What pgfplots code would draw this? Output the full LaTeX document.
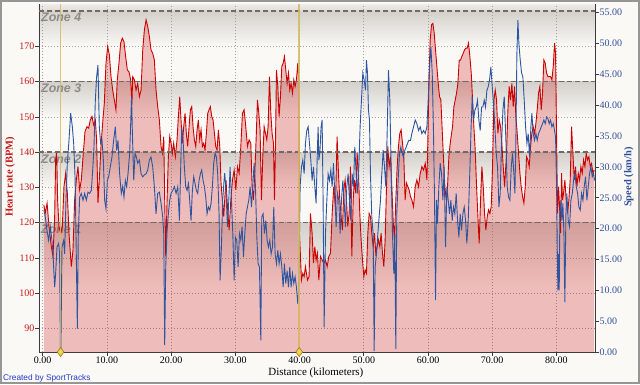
\documentclass[border=0pt]{standalone}
\usepackage{fontspec}
\setmainfont{Liberation Serif}
\newfontfamily\sansf{Liberation Sans}
\usepackage{pgfplots}
\pgfplotsset{compat=1.18}
\pgfdeclarelayer{bglayer}
\pgfsetlayers{bglayer,main}
\definecolor{bgc}{RGB}{250,249,246}
\definecolor{framegray}{RGB}{150,150,150}
\definecolor{zonegray}{RGB}{212,209,204}
\definecolor{topgray}{RGB}{222,219,215}
\definecolor{zonetext}{RGB}{140,138,135}
\definecolor{zoneline}{RGB}{115,105,100}
\definecolor{gridgray}{RGB}{160,160,160}
\definecolor{hrred}{RGB}{204,0,0}
\definecolor{hrlab}{RGB}{200,25,25}
\definecolor{spblue}{RGB}{45,85,160}
\definecolor{splab}{RGB}{50,80,155}
\definecolor{axisgray}{RGB}{60,60,60}
\definecolor{lapgold}{RGB}{215,185,95}
\definecolor{lapfill}{RGB}{240,212,80}
\definecolor{lapdraw}{RGB}{150,120,30}
\definecolor{stblue}{RGB}{35,60,200}

\pgfplotstableread{
km hr
0.2 125.0
0.4 122.6
0.7 125.5
1.0 118.9
1.36 113.2
1.62 110.4
1.88 121.7
2.03 137.8
2.19 140.1
2.34 126.4
2.55 118.9
2.81 117.0
3.07 118.9
3.33 130.2
3.59 134.0
3.85 128.3
4.11 117.0
4.47 107.5
4.73 112.2
4.99 126.4
5.25 132.1
5.51 135.9
5.77 129.3
6.03 132.1
6.34 139.7
6.60 145.8
6.91 147.2
7.17 146.8
7.43 149.1
7.69 150.1
7.95 147.7
8.21 149.1
8.41 143.5
8.62 125.5
8.83 132.1
9.09 141.6
9.35 148.2
9.61 153.9
9.87 165.2
10.13 169.9
10.39 167.6
10.65 161.4
10.91 157.6
11.17 154.8
11.42 152.0
11.63 160.5
11.89 165.2
12.15 170.9
12.41 172.3
12.67 171.3
12.93 167.1
13.19 163.3
13.45 162.8
13.71 160.5
13.90 153.5
14.03 161.4
14.29 160.5
14.55 157.6
14.81 159.5
15.07 155.7
15.33 157.6
15.59 169.0
15.85 174.7
16.11 177.5
16.37 175.6
16.62 172.8
16.88 169.0
17.14 168.0
17.40 166.1
17.66 157.6
17.92 152.9
18.18 149.1
18.44 141.6
18.65 139.7
18.86 144.4
19.01 126.4
19.17 110.4
19.38 126.4
19.58 138.7
19.79 144.4
20.00 142.5
20.21 139.7
20.41 142.5
20.67 138.7
20.93 143.5
21.14 150.1
21.35 155.7
21.55 149.1
21.76 142.5
21.97 147.2
22.18 151.0
22.38 145.3
22.59 141.6
22.80 147.2
23.01 152.0
23.22 152.9
23.42 147.2
23.63 143.5
23.84 141.6
24.05 146.3
24.25 149.1
24.46 143.5
24.67 146.3
24.88 141.6
25.08 142.5
25.29 140.6
25.50 145.3
25.71 151.0
25.91 152.0
26.12 152.9
26.33 150.1
26.54 149.1
26.75 145.3
26.95 141.6
27.16 140.6
27.37 146.3
27.58 141.6
27.78 131.2
27.99 126.4
28.20 121.7
28.41 128.3
28.56 132.0
28.78 124.5
29.04 117.9
29.30 126.4
29.56 132.1
29.82 134.9
30.08 129.3
30.34 135.9
30.60 134.0
30.86 141.6
31.11 151.0
31.37 152.0
31.63 147.2
31.89 141.6
32.15 143.5
32.41 142.5
32.62 130.2
32.83 126.4
33.03 134.0
33.24 143.5
33.45 154.8
33.66 151.0
33.86 146.3
34.07 126.4
34.28 138.7
34.49 147.2
34.70 145.3
34.90 143.5
35.11 147.2
35.32 161.4
35.53 151.0
35.73 145.3
35.94 142.5
36.10 126.4
36.25 141.6
36.41 163.3
36.62 158.6
36.82 150.1
37.03 155.7
37.24 164.3
37.45 165.2
37.65 167.1
37.86 163.3
38.07 159.5
38.28 162.4
38.48 157.6
38.69 159.5
38.90 156.7
39.11 160.5
39.31 158.6
39.52 160.5
39.73 165.2
39.89 160.5
39.99 117.0
40.30 103.7
40.51 105.6
40.72 104.7
40.92 107.5
41.24 103.7
41.49 104.7
41.70 122.6
41.96 117.0
42.17 108.5
42.38 113.2
42.58 109.4
42.79 111.3
43.00 103.7
43.26 110.4
43.52 109.4
43.78 108.5
44.04 109.4
44.30 107.5
44.56 110.4
44.82 111.3
45.08 122.6
45.33 130.2
45.59 124.5
45.85 144.4
46.06 134.0
46.27 126.4
46.48 121.7
46.68 117.9
46.89 129.3
47.10 132.1
47.31 126.4
47.51 118.9
47.72 122.6
47.93 135.9
48.14 110.4
48.35 126.4
48.55 132.1
48.76 128.3
48.97 139.7
49.18 134.0
49.38 122.6
49.59 115.1
49.80 109.4
50.01 104.7
50.21 106.6
50.42 105.6
50.63 117.0
50.84 122.6
51.04 121.7
51.25 117.0
51.46 113.2
51.67 117.0
51.87 111.3
52.08 113.2
52.29 115.1
52.50 113.2
52.70 117.0
52.91 111.3
53.12 107.5
53.33 115.1
53.54 130.2
53.74 141.6
53.95 135.9
54.16 138.7
54.37 130.2
54.57 120.8
54.78 115.1
54.99 126.4
55.20 135.9
55.40 141.6
55.61 145.3
55.82 146.3
56.03 142.5
56.23 138.7
56.44 126.4
56.65 131.2
56.86 130.2
57.06 129.3
57.27 127.4
57.49 126.4
57.75 124.5
58.01 130.2
58.27 132.1
58.53 130.2
58.79 134.0
59.05 135.9
59.31 134.9
59.57 136.8
59.83 132.1
59.98 143.5
60.14 159.5
60.34 171.8
60.55 176.1
60.76 176.5
60.97 173.7
61.17 169.0
61.38 164.3
61.59 159.5
61.80 155.7
62.00 154.8
62.21 146.3
62.42 137.8
62.63 130.2
62.84 126.4
63.04 130.2
63.25 138.7
63.46 142.5
63.67 145.3
63.82 147.2
64.03 152.9
64.24 154.8
64.44 156.7
64.65 159.5
64.86 166.1
65.07 166.1
65.27 167.1
65.48 168.0
65.69 169.0
65.90 169.5
66.10 169.5
66.31 170.9
66.52 167.1
66.73 162.4
66.94 154.8
67.14 147.2
67.35 140.6
67.56 130.2
67.77 121.7
67.97 114.1
68.18 126.4
68.39 135.9
68.60 130.2
68.80 122.6
69.01 117.9
69.22 121.7
69.43 123.6
69.63 122.6
69.84 124.5
70.05 135.9
70.26 154.8
70.47 157.6
70.67 154.8
70.88 145.3
71.09 149.1
71.30 147.2
71.50 142.5
71.71 135.9
71.92 130.2
72.23 139.7
72.44 152.0
72.64 158.6
72.85 154.8
73.06 159.5
73.27 152.9
73.47 158.6
73.68 150.1
73.89 145.3
74.10 139.7
74.31 134.0
74.51 130.2
74.72 127.4
74.93 125.5
75.14 130.2
75.34 138.7
75.55 137.8
75.76 135.9
75.97 141.6
76.17 145.3
76.38 147.2
76.59 145.3
76.80 148.2
77.00 152.0
77.21 156.7
77.42 158.6
77.63 152.0
77.83 156.7
78.04 166.1
78.25 165.2
78.46 162.4
78.67 161.4
78.87 161.4
79.08 161.4
79.29 160.5
79.50 164.3
79.70 170.9
79.86 168.0
80.02 143.5
80.17 122.6
80.33 130.2
80.48 124.5
80.64 117.0
80.79 134.0
80.95 126.4
81.10 128.3
81.31 132.1
81.52 126.4
81.73 122.6
81.93 126.4
82.14 132.1
82.35 147.2
82.56 139.7
82.77 132.1
82.97 135.9
83.18 130.2
83.39 134.0
83.60 132.1
83.80 135.9
84.01 134.0
84.22 137.8
84.43 135.9
84.63 139.7
84.84 137.8
85.05 138.7
85.26 135.9
85.47 136.8
85.67 134.0
85.88 134.9
}\hrdata

\pgfplotstableread{
km speed
0.21 23.0
0.42 21.9
0.68 19.7
0.94 18.1
1.20 20.3
1.46 18.1
1.67 14.8
1.88 10.5
2.03 12.7
2.24 17.0
2.50 17.6
2.65 15.9
2.78 0.0
2.84 0.0
3.02 17.0
3.28 18.1
3.43 15.9
3.64 24.6
3.85 30.6
4.11 34.3
4.37 38.7
4.63 36.5
4.84 33.8
5.05 28.4
5.20 19.2
5.41 3.8
5.56 19.2
5.77 25.1
6.03 25.7
6.29 24.6
6.55 25.7
6.81 24.6
7.07 25.9
7.33 25.7
7.59 26.2
7.80 29.5
8.00 33.2
8.21 40.8
8.41 44.6
8.62 46.5
8.83 36.5
9.04 33.8
9.25 34.3
9.46 31.1
9.66 24.6
9.87 23.2
10.08 27.8
10.28 28.4
10.54 30.0
10.80 31.6
11.06 34.3
11.32 36.5
11.53 32.7
11.74 34.3
11.99 28.9
12.25 25.7
12.46 26.8
12.67 25.1
12.88 27.8
13.09 26.8
13.30 28.9
13.55 32.2
13.70 36.5
13.85 41.4
13.98 35.4
14.19 27.8
14.39 32.2
14.60 31.6
14.81 30.6
15.07 31.1
15.33 28.9
15.59 28.4
15.85 28.7
16.11 28.9
16.37 29.5
16.62 31.1
16.88 31.6
17.14 30.0
17.40 26.8
17.66 22.4
17.92 25.7
18.18 25.9
18.44 24.1
18.70 21.9
18.86 19.2
19.01 1.1
19.17 13.8
19.38 19.7
19.58 22.4
19.79 24.6
20.00 25.7
20.26 26.2
20.52 26.8
20.78 25.7
21.04 26.8
21.30 21.3
21.45 27.8
21.66 36.5
21.87 34.3
22.07 30.0
22.28 26.8
22.49 26.2
22.70 27.3
22.90 24.6
23.11 21.3
23.32 26.2
23.53 28.4
23.74 27.3
23.94 26.2
24.15 25.7
24.36 27.8
24.57 28.9
24.77 29.5
24.98 27.8
25.19 26.8
25.40 25.1
25.60 22.4
25.81 23.5
26.02 23.0
26.23 24.1
26.43 26.8
26.64 30.6
26.85 32.2
27.06 31.6
27.26 28.9
27.47 22.4
27.63 11.6
27.84 17.0
28.04 24.6
28.25 27.8
28.35 29.0
28.52 26.8
28.78 20.3
28.99 24.6
29.19 30.0
29.40 24.6
29.61 19.2
29.82 11.6
30.02 18.6
30.23 18.1
30.44 13.8
30.65 19.2
30.86 18.1
31.06 20.3
31.27 15.4
31.48 19.2
31.69 22.4
31.89 23.5
32.10 24.6
32.31 26.8
32.52 23.5
32.72 26.8
32.93 30.6
33.14 26.8
33.35 18.6
33.55 14.3
33.76 13.8
33.97 1.9
34.12 21.9
34.33 22.4
34.54 19.2
34.75 21.3
34.96 18.1
35.16 17.0
35.37 18.1
35.58 15.9
35.79 17.0
35.99 23.5
36.20 15.9
36.41 14.3
36.62 16.5
36.82 14.3
37.03 15.9
37.24 13.8
37.45 10.5
37.65 14.3
37.86 11.1
38.07 13.2
38.28 10.5
38.48 13.8
38.69 10.5
38.90 12.7
39.11 11.1
39.31 12.2
39.52 10.5
39.73 7.8
39.89 10.0
40.09 26.8
40.30 30.0
40.51 31.1
40.72 28.9
40.92 33.8
41.13 35.9
41.34 36.5
41.55 33.8
41.76 31.1
41.96 27.8
42.17 30.0
42.38 26.8
42.58 24.1
42.79 33.2
42.90 36.5
43.00 31.1
43.16 32.2
43.36 36.5
43.52 37.6
43.67 24.6
43.83 4.0
44.04 19.2
44.25 24.6
44.45 28.9
44.66 27.8
44.87 29.5
45.08 26.8
45.28 30.6
45.49 25.7
45.70 20.3
45.91 25.7
46.11 24.6
46.32 19.2
46.53 24.6
46.74 27.8
46.94 24.6
47.15 20.3
47.36 26.8
47.57 28.9
47.77 24.6
47.98 21.3
48.19 28.9
48.40 26.8
48.60 33.2
48.81 28.9
49.02 25.7
49.23 30.0
49.43 36.5
49.64 40.8
49.85 45.2
50.06 44.1
50.27 42.4
50.42 47.3
50.58 45.2
50.73 39.2
50.89 37.6
51.04 28.9
51.25 21.9
51.46 19.2
51.62 0.2
51.77 13.8
51.98 15.9
52.19 19.2
52.39 21.9
52.60 24.6
52.81 28.9
53.02 32.7
53.23 30.0
53.43 26.8
53.64 35.4
53.85 45.7
54.06 40.8
54.26 30.0
54.47 19.2
54.68 12.7
54.83 19.2
54.99 0.5
55.14 22.4
55.35 27.8
55.56 32.2
55.77 33.2
55.97 32.2
56.18 31.6
56.39 32.7
56.60 33.2
56.81 33.8
57.01 34.3
57.27 34.3
57.49 35.4
57.75 36.5
58.01 37.6
58.27 37.0
58.53 35.9
58.79 36.5
59.05 35.4
59.31 35.9
59.57 35.4
59.83 36.5
60.03 40.8
60.24 46.2
60.45 49.5
60.66 45.2
60.86 35.4
61.02 24.6
61.17 8.4
61.33 24.6
61.48 20.8
61.69 26.8
61.90 30.6
62.11 28.9
62.32 24.6
62.52 30.0
62.73 17.0
62.94 26.8
63.15 24.6
63.35 22.4
63.56 24.6
63.77 21.3
63.98 23.5
64.18 22.4
64.39 25.7
64.60 21.3
64.81 18.6
65.01 22.4
65.22 19.7
65.43 22.4
65.64 23.5
65.85 21.3
66.05 17.6
66.26 21.3
66.47 27.8
66.68 35.4
66.88 41.4
67.09 37.6
67.30 39.2
67.51 39.7
67.71 40.8
67.92 37.6
68.13 35.9
68.34 39.7
68.54 39.7
68.75 40.8
68.96 39.7
69.17 42.4
69.37 43.0
69.58 44.1
69.79 46.2
70.00 43.0
70.20 40.3
70.41 36.5
70.62 32.2
70.83 30.0
71.04 23.5
71.24 25.7
71.45 33.8
71.66 39.2
71.87 41.4
72.13 34.3
72.33 26.8
72.54 25.1
72.75 24.6
72.96 30.0
73.16 32.2
73.37 28.9
73.53 25.7
73.68 34.3
73.84 48.4
74.00 53.8
74.15 50.0
74.36 47.3
74.57 45.2
74.77 44.6
74.98 40.8
75.19 36.5
75.40 33.8
75.60 35.4
75.81 31.6
76.02 36.5
76.17 38.7
76.38 35.4
76.59 34.3
76.80 35.4
77.00 34.3
77.21 35.4
77.42 35.9
77.63 36.5
77.83 37.0
78.04 37.6
78.25 37.0
78.46 38.1
78.67 37.8
78.87 37.0
79.08 37.6
79.29 36.5
79.50 37.0
79.70 35.9
79.86 34.8
80.02 26.8
80.12 17.0
80.22 10.0
80.33 15.9
80.43 10.0
80.53 22.4
80.69 24.6
80.84 21.3
81.00 24.1
81.16 19.2
81.31 8.1
81.47 22.4
81.62 25.7
81.83 21.3
82.04 20.3
82.25 24.6
82.46 25.7
82.66 27.8
82.87 28.9
83.08 26.8
83.29 25.7
83.49 23.5
83.70 23.0
83.91 25.7
84.12 24.6
84.32 26.8
84.53 28.4
84.74 24.6
84.95 26.8
85.15 28.9
85.36 30.0
85.57 28.4
85.78 28.9
85.93 27.8
}\spdata

\begin{document}
\begin{tikzpicture}
\begin{axis}[
  scale only axis,
  width=556pt, height=348pt,
  xmin=-0.56, xmax=86.0, ymin=83.3, ymax=182.0,
  axis x line*=bottom, axis y line*=left,
  axis line style={draw=axisgray, line width=0.8pt},
  xtick={0,10,...,80}, ytick={90,100,...,170},
  tick align=outside, major tick length=4pt,
  every tick/.style={draw=axisgray, line width=0.6pt},
  grid=major, major grid style={draw=gridgray, line width=0.6pt, dash pattern=on 1pt off 2pt},
  tick label style={font=\fontsize{10}{12}\selectfont},
  /pgf/number format/assume math mode=true,
  xticklabel style={inner sep=1pt, /pgf/number format/.cd, fixed, fixed zerofill, precision=2},
  yticklabel style={text=hrlab, inner sep=0.5pt},
  xlabel={Distance (kilometers)},
  ylabel={Heart rate (BPM)},
  every axis x label/.style={at={(axis description cs:0.498,-0.061)}, anchor=center, inner sep=0.5pt, font=\fontsize{11}{13}\selectfont},
  every axis y label/.style={at={(axis description cs:-0.052,0.503)}, anchor=center, rotate=90, font=\bfseries\fontsize{10.5}{13}\selectfont, text=hrlab},
]
\coordinate (PSW) at (rel axis cs:0,0);
\addplot[draw=none, fill=hrred, fill opacity=0.24] table[x=km, y=hr] {\hrdata} \closedcycle;
\addplot[hrred, line width=0.9pt] table[x=km, y=hr] {\hrdata};
\foreach \z in {120,140,160,180} {
  \edef\temp{\noexpand\draw[zoneline, line width=1.3pt, dash pattern=on 5pt off 3pt] (axis cs:-0.56,\z) -- (axis cs:86.0,\z);}
  \temp
}
\end{axis}

\begin{axis}[
  scale only axis,
  width=556pt, height=348pt,
  xmin=-0.56, xmax=86.0, ymin=0, ymax=56.4,
  axis x line=none, axis y line*=right,
  axis line style={draw=axisgray, line width=0.8pt},
  ytick={0,5,...,55},
  tick align=outside, major tick length=4pt,
  every tick/.style={draw=axisgray, line width=0.6pt},
  tick label style={font=\fontsize{10}{12}\selectfont},
  /pgf/number format/assume math mode=true,
  yticklabel style={text=splab, inner sep=0.5pt, /pgf/number format/.cd, fixed, fixed zerofill, precision=2},
  ylabel={Speed (km/h)},
  every axis y label/.style={at={(axis description cs:1.061,0.503)}, anchor=center, rotate=90, font=\bfseries\fontsize{10.5}{13}\selectfont, text=splab},
]
\addplot[spblue, line width=0.9pt] table[x=km, y=speed] {\spdata};
\draw[lapgold, line width=1.8pt, opacity=0.85] (axis cs:2.8,0) -- (axis cs:2.8,56.4);
\draw[lapgold, line width=1.8pt, opacity=0.85] (axis cs:39.95,0) -- (axis cs:39.95,56.4);
\addplot[only marks, mark=diamond*, mark size=4.5pt, mark options={fill=lapfill, draw=lapdraw, line width=0.6pt}] coordinates {(2.8,0) (39.95,0)};
\node[font=\sansf\fontsize{4.5}{5}\selectfont, text=lapdraw!60!black, inner sep=0] at (axis cs:2.8,0) {1};
\node[font=\sansf\fontsize{4.5}{5}\selectfont, text=lapdraw!60!black, inner sep=0] at (axis cs:39.95,0) {2};
\end{axis}

% everything else in pixel units, origin = picture's lower left corner
\begin{scope}[shift={(PSW)}, xshift=-39pt, yshift=-32pt, x=1pt, y=1pt]
\begin{pgfonlayer}{bglayer}
\fill[bgc] (0,0) rectangle (640,384);
\shade[top color=bgc!60!topgray, bottom color=topgray] (39,373) rectangle (595,380);
\shade[top color=zonegray, bottom color=bgc] (39,337) rectangle (595,373);
\shade[top color=zonegray, bottom color=bgc] (39,266) rectangle (595,302.3);
\shade[top color=zonegray, bottom color=bgc] (39,196) rectangle (595,231.3);
\shade[top color=zonegray, bottom color=bgc] (39,96) rectangle (595,161.3);
\begin{scope}[font=\sansf\bfseries\itshape\fontsize{12.4}{14}\selectfont, text=zonetext, inner sep=0pt]
\node[anchor=north west] at (41,371) {Zone 4};
\node[anchor=north west] at (41,300) {Zone 3};
\node[anchor=north west] at (41,229) {Zone 2};
\node[anchor=north west] at (41,159) {Zone 1};
\end{scope}
\end{pgfonlayer}
\node[anchor=base west, inner sep=0, font=\sansf\fontsize{8.3}{10}\selectfont, text=stblue] at (3,4) {Created by SportTracks};
\draw[framegray, line width=2pt] (1,1) rectangle (639,383);
\useasboundingbox (0,0) rectangle (640,384);
\end{scope}
\end{tikzpicture}
\end{document}
